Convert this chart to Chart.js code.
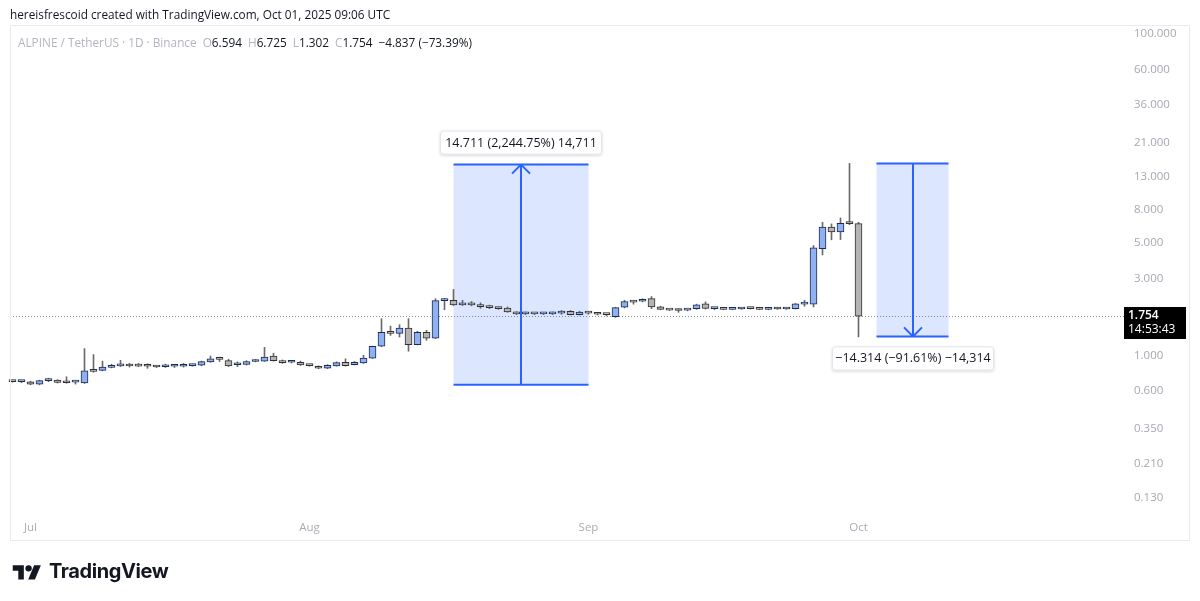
<!DOCTYPE html>
<html><head><meta charset="utf-8">
<script src="https://cdn.jsdelivr.net/npm/chart.js@4.4.0/dist/chart.umd.min.js"></script>
<style>
html,body{margin:0;padding:0;background:#fff;width:1200px;height:601px;overflow:hidden;font-family:"Open Sans","Noto Sans",sans-serif;}
#wrap{position:relative;width:1200px;height:601px;}
#c{position:absolute;left:0;top:0;}
#hdr{position:absolute;left:10px;top:6px;font-size:11.8px;color:#131722;white-space:nowrap;}
#frame{position:absolute;left:10px;top:25px;width:1180px;height:516px;border:1px solid #e9ebf0;box-sizing:border-box;pointer-events:none;}
#legend{position:absolute;left:18px;top:34px;font-size:11.8px;color:#b2b5be;white-space:nowrap;}
#legend .v{color:#131722;}
#legend .g{margin-left:6px;}
#logo{position:absolute;left:12px;top:559px;display:flex;align-items:center;gap:7px;}
#logo span{font-family:Inter,"Open Sans",sans-serif;font-weight:700;font-size:20px;color:#131722;letter-spacing:-0.4px;}
</style></head>
<body><div id="wrap">
<canvas id="c" width="1200" height="601"></canvas>
<div id="frame"></div>
<div id="hdr">hereisfrescoid created with TradingView.com, Oct 01, 2025 09:06 UTC</div>
<div id="legend">ALPINE / TetherUS · 1D · Binance<span class="g">O</span><span class="v">6.594</span><span class="g">H</span><span class="v">6.725</span><span class="g">L</span><span class="v">1.302</span><span class="g">C</span><span class="v">1.754</span><span class="v g">−4.837 (−73.39%)</span></div>
<div id="logo"><svg width="30" height="19" viewBox="0 0 36 24"><path d="M14 22H7V11H0V4h14v18z" fill="#131722"/><circle cx="20" cy="8" r="4" fill="#131722"/><path d="M28 22h-8.5l7.5-18h8.5L28 22z" fill="#131722"/></svg><span>TradingView</span></div>
</div>
<script>
// ---- data (daily candles, 2025-06-29 .. 2025-10-01) ----
const startDate = '2025-06-29';
const opens  = [0.69,0.685,0.683,0.66,0.695,0.70,0.69,0.68,0.673,0.80,0.805,0.84,0.86,0.86,0.858,0.856,0.85,0.848,0.855,0.855,0.862,0.867,0.91,0.948,0.927,0.873,0.876,0.915,0.918,0.99,0.925,0.905,0.905,0.866,0.85,0.83,0.86,0.905,0.875,0.895,0.96,1.14,1.41,1.37,1.475,1.165,1.39,1.28,2.19,2.2,2.06,2.08,2.05,2.0,1.97,1.97,1.85,1.81,1.82,1.81,1.81,1.83,1.88,1.79,1.85,1.82,1.80,1.74,1.99,2.15,2.17,2.25,2.0,1.93,1.91,1.91,1.95,2.09,1.95,1.94,1.93,1.94,1.98,1.98,1.93,1.98,1.94,1.95,2.08,2.08,4.6,6.27,5.85,6.64,6.594];
const highs  = [0.70,0.695,0.69,0.70,0.72,0.705,0.735,0.70,1.10,1.01,0.92,0.88,0.93,0.89,0.89,0.885,0.86,0.88,0.875,0.89,0.875,0.92,0.99,0.975,0.945,0.91,0.925,0.94,1.12,1.03,0.935,0.92,0.92,0.875,0.86,0.875,0.91,0.95,0.915,1.0,1.14,1.69,1.52,1.55,1.69,1.41,1.43,2.25,2.26,2.57,2.2,2.16,2.12,2.05,2.0,2.0,1.87,1.86,1.84,1.84,1.86,1.90,1.90,1.88,1.87,1.83,1.81,1.99,2.2,2.2,2.25,2.32,2.02,1.94,1.95,1.94,2.08,2.15,1.99,1.95,1.95,1.96,1.99,1.99,1.99,1.99,1.95,2.10,2.2,4.82,6.73,6.57,7.16,15.625,6.725];
const lows   = [0.68,0.675,0.655,0.655,0.685,0.672,0.67,0.662,0.668,0.785,0.80,0.835,0.85,0.845,0.85,0.83,0.838,0.84,0.84,0.845,0.855,0.86,0.905,0.915,0.85,0.85,0.87,0.91,0.915,0.92,0.89,0.895,0.865,0.855,0.825,0.825,0.855,0.855,0.87,0.89,0.955,1.13,1.33,1.30,1.06,1.16,1.24,1.27,1.92,2.04,2.04,2.03,1.96,1.95,1.93,1.85,1.79,1.79,1.79,1.79,1.79,1.80,1.78,1.78,1.80,1.78,1.76,1.72,1.97,2.08,2.15,1.95,1.92,1.90,1.85,1.89,1.93,1.94,1.92,1.92,1.92,1.93,1.94,1.92,1.92,1.93,1.93,1.94,2.02,2.0,4.21,5.23,5.25,6.5,1.302];
const closes = [0.685,0.688,0.66,0.695,0.70,0.677,0.675,0.684,0.80,0.795,0.845,0.865,0.862,0.858,0.857,0.855,0.845,0.855,0.855,0.862,0.867,0.913,0.95,0.944,0.858,0.876,0.915,0.927,0.975,0.927,0.90,0.909,0.87,0.862,0.83,0.865,0.90,0.862,0.905,0.96,1.135,1.39,1.37,1.475,1.165,1.39,1.28,2.19,2.2,2.06,2.1,2.06,2.01,1.98,1.95,1.86,1.81,1.84,1.81,1.82,1.85,1.88,1.79,1.86,1.83,1.80,1.79,1.98,2.16,2.14,2.23,2.0,1.93,1.91,1.90,1.93,2.06,1.96,1.95,1.93,1.935,1.95,1.95,1.93,1.98,1.94,1.94,2.09,2.1,4.66,6.27,5.85,6.62,6.594,1.754];
const totalSlots = 123;                 // visible day slots incl. empty right margin
const tickIndex  = [2, 33, 64, 94];     // Jul 1, Aug 1, Sep 1, Oct 1
const tickLabels = ['Jul', 'Aug', 'Sep', 'Oct'];
const priceTicks = [0.13, 0.21, 0.35, 0.6, 1, 3, 5, 8, 13, 21, 36, 60, 100];
const lastPrice = 1.754;
const countdown = '14:53:43';
// measure tools: [startIndex, endIndex, fromPrice, toPrice, label]
const measureFrom  = [49, 96];
const measureTo    = [64, 104];
const measureStart = [0.6553, 15.625];
const measureEnd   = [15.366, 1.311];
const measureText  = ['14.711 (2,244.75%) 14,711', '\u221214.314 (\u221291.61%) \u221214,314'];

const UP_FILL = '#8fb1f1', DN_FILL = '#b4b4b4', UP_LINE = '#1d2b50', DN_LINE = '#303030', WICK = '#6a6a6a';

const bodies = opens.map((o, i) => ({x: i, y: [o, closes[i]]}));
const wicks  = opens.map((o, i) => ({x: i, y: [lows[i], highs[i]]}));
const isUp = opens.map((o, i) => closes[i] >= o);

const measurePlugin = {
  id: 'measure',
  beforeDatasetsDraw(chart) {
    const {ctx, scales: {x, y}} = chart;
    ctx.save();
    const py = Math.round(y.getPixelForValue(lastPrice)) + 0.5;
    ctx.strokeStyle = '#8a8d96'; ctx.lineWidth = 1; ctx.setLineDash([1, 2]);
    ctx.beginPath(); ctx.moveTo(10, py); ctx.lineTo(1124, py); ctx.stroke();
    ctx.setLineDash([]);
    for (let k = 0; k < measureFrom.length; k++) {
      const x1 = x.getPixelForValue(measureFrom[k]), x2 = x.getPixelForValue(measureTo[k]);
      const ya = y.getPixelForValue(measureStart[k]), yb = y.getPixelForValue(measureEnd[k]);
      ctx.fillStyle = 'rgba(41,98,255,0.16)';
      ctx.fillRect(x1, Math.min(ya, yb), x2 - x1, Math.abs(yb - ya));
    }
    ctx.restore();
  },
  afterDatasetsDraw(chart) {
    const {ctx, scales: {x, y}} = chart;
    ctx.save();
    for (let k = 0; k < measureFrom.length; k++) {
      const x1 = x.getPixelForValue(measureFrom[k]), x2 = x.getPixelForValue(measureTo[k]);
      const ya = y.getPixelForValue(measureStart[k]), yb = y.getPixelForValue(measureEnd[k]);
      const xm = Math.round((x1 + x2) / 2);
      ctx.strokeStyle = '#2962ff'; ctx.lineWidth = 2;
      ctx.beginPath();
      ctx.moveTo(x1, ya); ctx.lineTo(x2, ya);
      ctx.moveTo(x1, yb); ctx.lineTo(x2, yb);
      ctx.moveTo(xm, ya); ctx.lineTo(xm, yb);
      const dir = yb < ya ? 1 : -1;
      ctx.moveTo(xm - 9, yb + dir * 9); ctx.lineTo(xm, yb); ctx.lineTo(xm + 9, yb + dir * 9);
      ctx.stroke();
      const w = 162, h = 24;
      const top = yb < ya ? Math.min(ya, yb) - 10 - h : Math.max(ya, yb) + 10;
      const bx = xm - w / 2;
      ctx.shadowColor = 'rgba(0,0,0,0.18)'; ctx.shadowBlur = 3; ctx.shadowOffsetY = 1;
      ctx.fillStyle = '#fff';
      ctx.beginPath(); ctx.roundRect(bx, top, w, h, 3); ctx.fill();
      ctx.shadowColor = 'transparent';
      ctx.strokeStyle = '#e3e5ea'; ctx.lineWidth = 1;
      ctx.beginPath(); ctx.roundRect(bx + 0.5, top + 0.5, w - 1, h - 1, 3); ctx.stroke();
      ctx.fillStyle = '#131722'; ctx.font = '12.5px "Open Sans", sans-serif';
      ctx.textAlign = 'center'; ctx.textBaseline = 'middle';
      ctx.fillText(measureText[k], xm, top + h / 2 + 0.5);
    }
    const py = y.getPixelForValue(lastPrice);
    ctx.fillStyle = '#000';
    ctx.fillRect(1124, Math.round(py) - 9, 62, 32);
    ctx.fillStyle = '#fff'; ctx.textAlign = 'left'; ctx.textBaseline = 'middle';
    ctx.font = '600 12px "Open Sans", sans-serif';
    ctx.fillText(lastPrice.toFixed(3), 1128, Math.round(py) - 0.5);
    ctx.font = '12px "Open Sans", sans-serif';
    ctx.fillText(countdown, 1128, Math.round(py) + 14);
    ctx.restore();
  }
};

new Chart(document.getElementById('c'), {
  type: 'bar',
  data: {
    datasets: [
      { label: 'wick', data: wicks, grouped: false, barThickness: 1, borderWidth: 0,
        backgroundColor: WICK, order: 2 },
      { label: 'body', data: bodies, grouped: false, barThickness: 7, borderWidth: 1, borderSkipped: false,
        minBarLength: 2,
        backgroundColor: isUp.map(u => u ? UP_FILL : DN_FILL),
        borderColor: isUp.map(u => u ? UP_LINE : DN_LINE), order: 1 }
    ]
  },
  options: {
    responsive: false, animation: false, devicePixelRatio: 1,
    layout: { padding: { left: 8, top: 25, right: 0, bottom: 0 } },
    plugins: { legend: { display: false }, tooltip: { enabled: false } },
    scales: {
      x: {
        type: 'linear', min: -0.5, max: totalSlots - 0.5, offset: false,
        grid: { display: false, drawTicks: false }, border: { display: false },
        afterBuildTicks: s => { s.ticks = tickIndex.map(v => ({ value: v })); },
        afterFit: s => { s.height = 88; },
        ticks: { padding: 8, maxRotation: 0, autoSkip: false, color: '#a9acb4',
          font: { family: '"Open Sans", sans-serif', size: 11.5 },
          callback: (v, i) => tickLabels[i] }
      },
      y: {
        type: 'logarithmic', position: 'right', min: 0.10438, max: 112.1, bounds: 'data',
        grid: { display: false, drawTicks: false }, border: { display: false },
        afterBuildTicks: s => { s.ticks = priceTicks.map(v => ({ value: v })); },
        afterFit: s => { s.width = 85; },
        ticks: { padding: 19, color: '#a5a8b0', autoSkip: false,
          font: { family: '"Open Sans", sans-serif', size: 11.5 },
          callback: v => Number(v).toFixed(3) }
      }
    }
  },
  plugins: [measurePlugin]
});
</script>
</body></html>
